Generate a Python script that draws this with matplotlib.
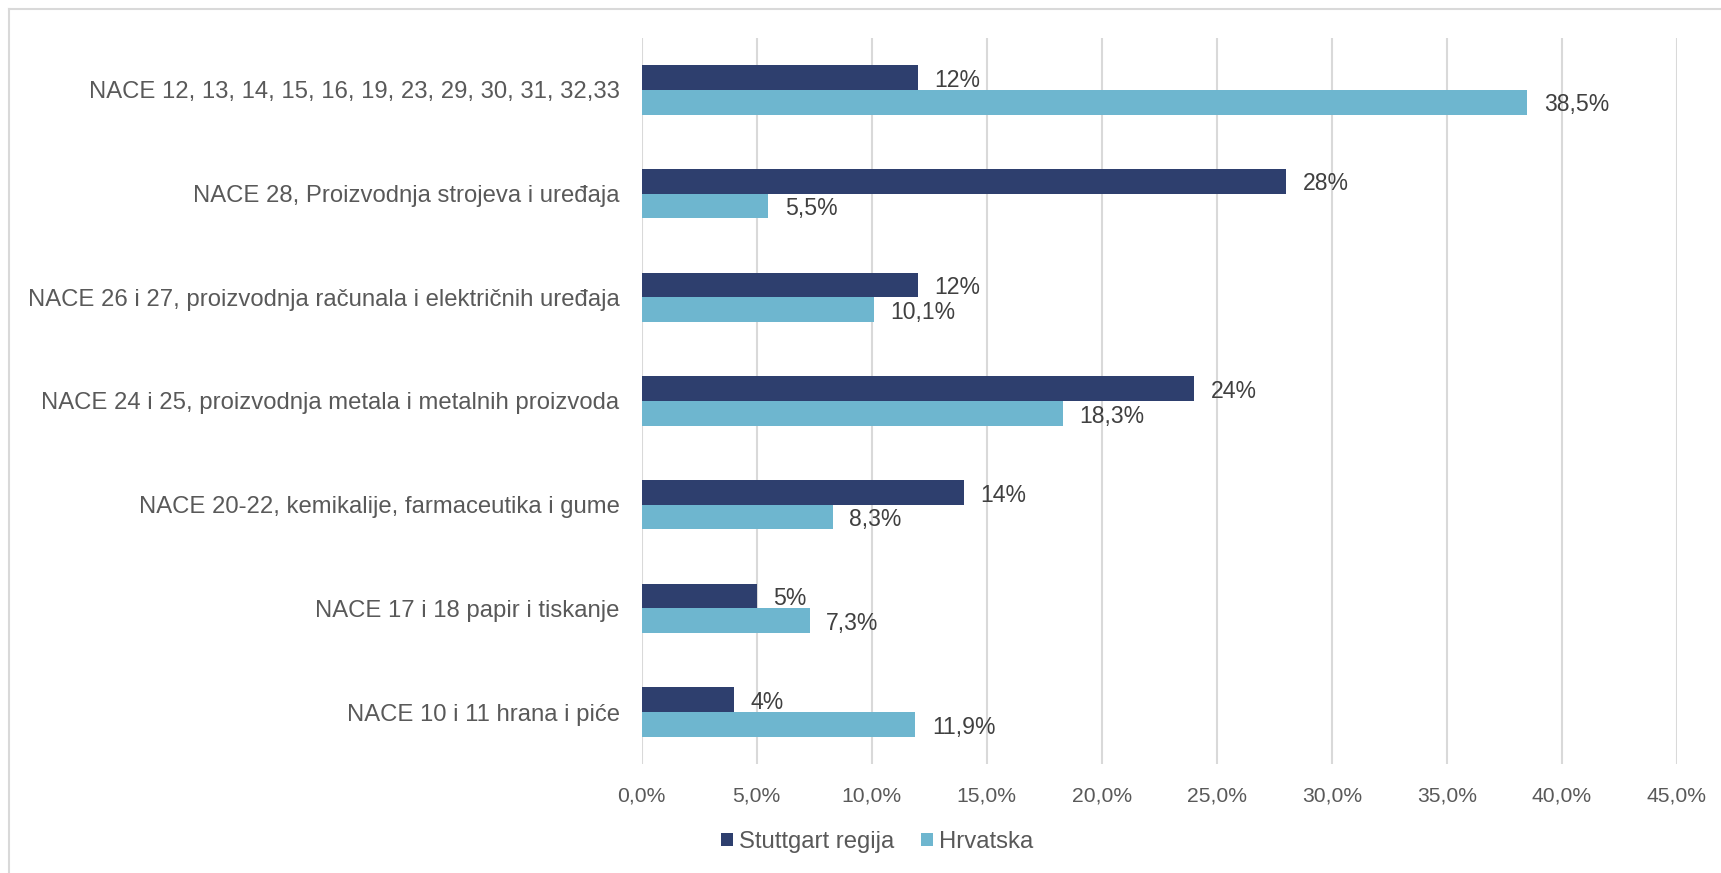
import numpy as np
import matplotlib.pyplot as plt
from matplotlib.lines import Line2D
from matplotlib.ticker import FuncFormatter

plt.rcParams['font.family'] = ['Liberation Sans', 'DejaVu Sans']

# Kategorije (odozgo prema dolje)
kategorije = [
    "NACE 12, 13, 14, 15, 16, 19, 23, 29, 30, 31, 32,33",
    "NACE 28, Proizvodnja strojeva i uređaja",
    "NACE 26 i 27, proizvodnja računala i električnih uređaja",
    "NACE 24 i 25, proizvodnja metala i metalnih proizvoda",
    "NACE 20-22, kemikalije, farmaceutika i gume",
    "NACE 17 i 18 papir i tiskanje",
    "NACE 10 i 11 hrana i piće",
]
stuttgart = [12, 28, 12, 24, 14, 5, 4]
hrvatska = [38.5, 5.5, 10.1, 18.3, 8.3, 7.3, 11.9]
stuttgart_oznake = ["12%", "28%", "12%", "24%", "14%", "5%", "4%"]
hrvatska_oznake = ["38,5%", "5,5%", "10,1%", "18,3%", "8,3%", "7,3%", "11,9%"]
serije = ["Stuttgart regija", "Hrvatska"]

c_tamna = '#2E3F6E'
c_svijetla = '#6EB6CF'
c_tekst = '#595959'

fig = plt.figure(figsize=(17.21, 8.73), dpi=100)
ax = fig.add_axes([0.3729, 0.1249, 0.6014, 0.8316])

y = np.arange(len(kategorije))
h = 0.238
b1 = ax.barh(y - h/2, stuttgart, height=h, color=c_tamna, label=serije[0])
b2 = ax.barh(y + h/2, hrvatska, height=h, color=c_svijetla, label=serije[1])

# oznake podataka
for rect, txt in zip(b1, stuttgart_oznake):
    ax.annotate(txt, (rect.get_width(), rect.get_y() + rect.get_height()/2),
                xytext=(12, -2), textcoords='offset points', va='center',
                ha='left', fontsize=16.6, color='#404040')
for rect, txt in zip(b2, hrvatska_oznake):
    ax.annotate(txt, (rect.get_width(), rect.get_y() + rect.get_height()/2),
                xytext=(12, -2), textcoords='offset points', va='center',
                ha='left', fontsize=16.6, color='#404040')

ax.set_xlim(0, 45)
ax.set_ylim(len(kategorije) - 0.5, -0.5)
ax.set_xticks(np.arange(0, 46, 5))
ax.xaxis.set_major_formatter(FuncFormatter(lambda v, p: f"{v:.1f}%".replace('.', ',')))
ax.set_yticks(y)
ax.set_yticklabels(kategorije)

ax.grid(axis='x', color='#D9D9D9', linewidth=1.5)
ax.set_axisbelow(True)
for s in ax.spines.values():
    s.set_visible(False)
ax.tick_params(axis='x', length=0, pad=16, labelsize=15.2, labelcolor=c_tekst)
ax.tick_params(axis='y', length=0, pad=16, labelsize=17.2, labelcolor=c_tekst)

fig.legend(handles=[b1, b2], labels=serije, loc='center',
           bbox_to_anchor=(877/1721, 1 - 842/873), ncol=2, frameon=False,
           fontsize=17.2, labelcolor=c_tekst, handlelength=0.5, handleheight=0.5,
           handletextpad=0.25, columnspacing=1.1)

# okvir grafikona (gornji i lijevi rub)
fig.add_artist(Line2D([9/1721, 1], [1 - 9/873, 1 - 9/873], color='#D9D9D9', linewidth=1.5))
fig.add_artist(Line2D([9/1721, 9/1721], [0, 1 - 9/873], color='#D9D9D9', linewidth=1.5))

fig.savefig('out.png', dpi=100)
